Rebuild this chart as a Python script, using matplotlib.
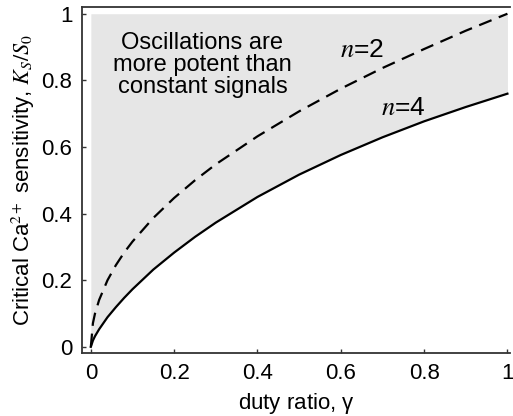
import matplotlib
matplotlib.use('Agg')
import matplotlib.pyplot as plt

plt.rcParams['font.family'] = ['Liberation Sans', 'DejaVu Sans']
plt.rcParams['mathtext.fontset'] = 'stix'

duty_ratio = [0.0, 0.005, 0.01, 0.02, 0.04, 0.06, 0.08, 0.1, 0.15, 0.2, 0.25,
              0.3, 0.4, 0.5, 0.6, 0.7, 0.8, 0.9, 1.0]
# n=2 (dashed)
sens_n2 = [0.0, 0.071, 0.1, 0.141, 0.2, 0.245, 0.283, 0.316, 0.387, 0.447, 0.5,
           0.548, 0.632, 0.707, 0.775, 0.837, 0.894, 0.949, 1.0]
# n=4 (solid)
sens_n4 = [0.0, 0.019, 0.032, 0.053, 0.089, 0.119, 0.147, 0.173, 0.232, 0.283, 0.330,
           0.373, 0.450, 0.517, 0.576, 0.629, 0.677, 0.720, 0.760]

x_ticks = [0, 0.2, 0.4, 0.6, 0.8, 1]
x_tick_labels = ['0', '0.2', '0.4', '0.6', '0.8', '1']
y_ticks = [0, 0.2, 0.4, 0.6, 0.8, 1]
y_tick_labels = ['0', '0.2', '0.4', '0.6', '0.8', '1']

fig = plt.figure(figsize=(5.13, 4.16), dpi=100)
ax = fig.add_axes([0.160, 0.151, 0.834, 0.832])

# shaded region above the n=4 curve
ax.fill_between(duty_ratio, sens_n4, 1.0, color='#e6e6e6', linewidth=0, zorder=1)

ax.plot(duty_ratio, sens_n2, color='black', linewidth=1.6, linestyle=(0, (6, 3.5)), zorder=3)
ax.plot(duty_ratio, sens_n4, color='black', linewidth=1.6, zorder=3)

ax.text(0.268, 0.846, 'Oscillations are\nmore potent than\nconstant signals',
        fontsize=17, ha='center', va='center', linespacing=1.0, zorder=4)
ax.text(0.652, 0.89, '$n$=2', fontsize=19, ha='center', va='center', zorder=4)
ax.text(0.75, 0.717, '$n$=4', fontsize=19, ha='center', va='center', zorder=4)

ax.set_xlim(-0.021, 1.006)
ax.set_ylim(-0.019, 1.020)
ax.set_xticks(x_ticks)
ax.set_xticklabels(x_tick_labels)
ax.set_yticks(y_ticks)
ax.set_yticklabels(y_tick_labels)
ax.tick_params(direction='in', length=3, width=1, labelsize=16, colors='#333333',
               labelcolor='black', pad=7)

ax.set_xlabel('duty ratio, $\\mathregular{\\gamma}$', fontsize=16, labelpad=5)
ax.set_ylabel('Critical Ca$^{2+}$ sensitivity, $K_S/S_0$', fontsize=16, labelpad=3)

for side in ['left', 'bottom', 'top']:
    ax.spines[side].set_color('#333333')
    ax.spines[side].set_linewidth(1.3)
ax.spines['right'].set_visible(False)

fig.savefig('out.png', dpi=100)
